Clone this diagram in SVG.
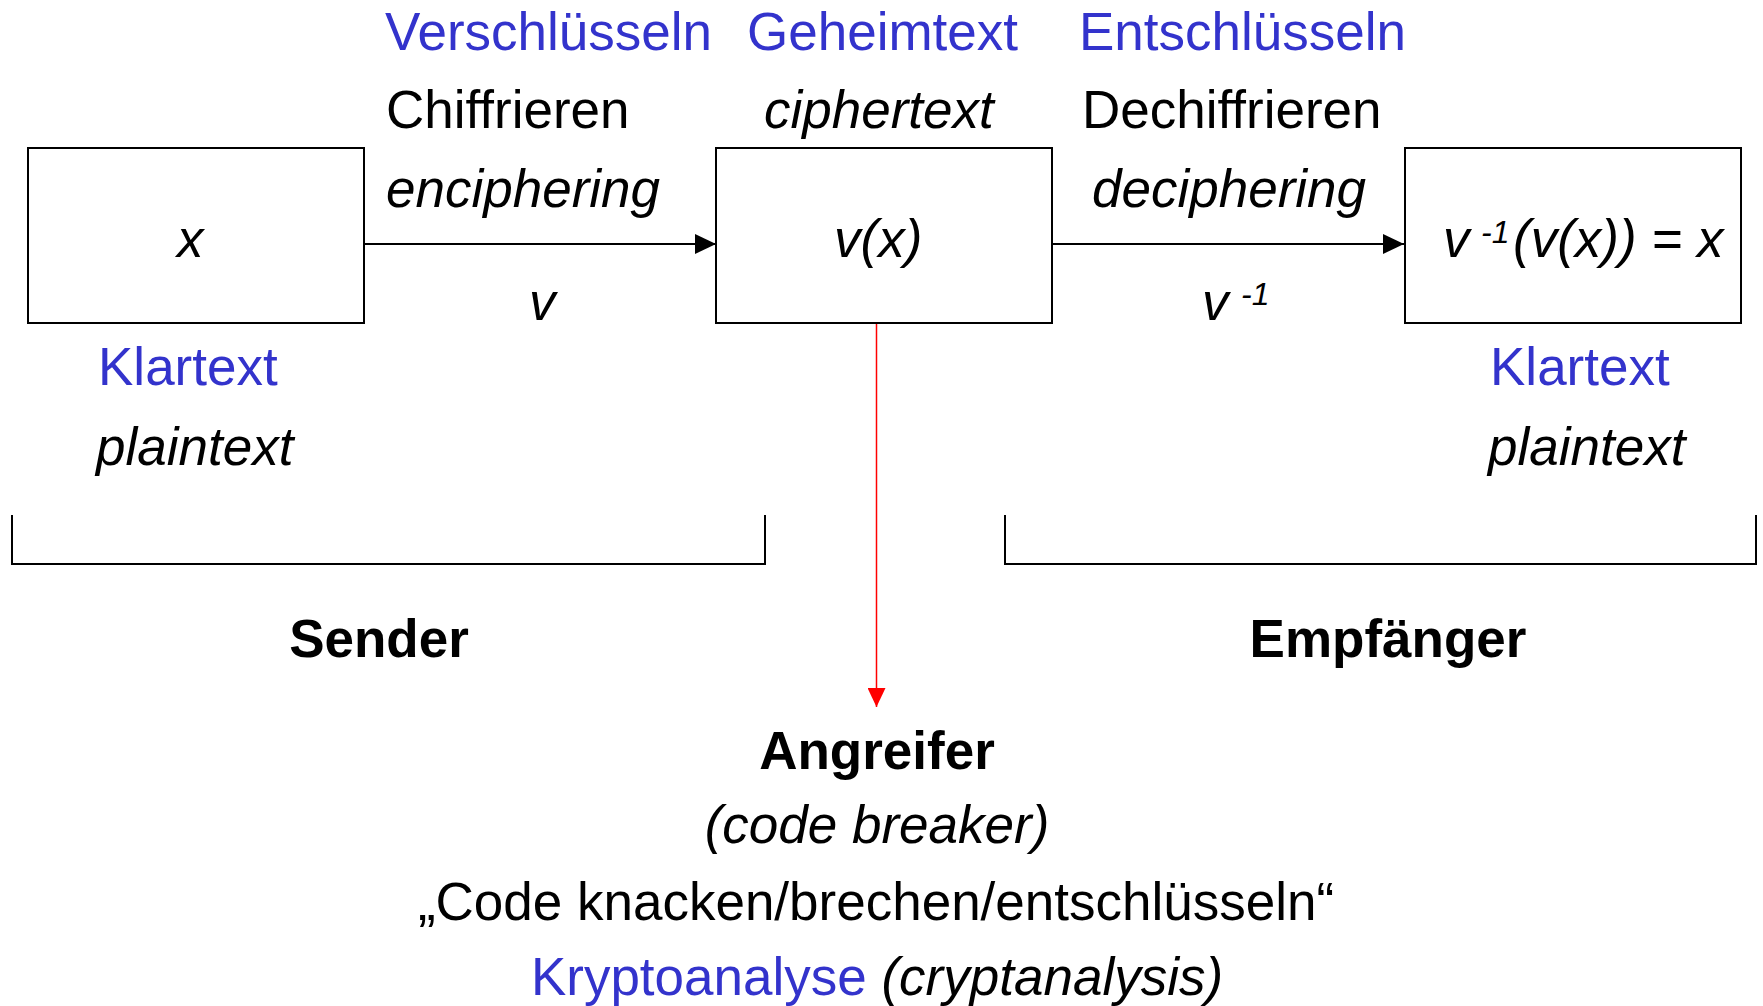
<svg xmlns="http://www.w3.org/2000/svg" width="1763" height="1006" viewBox="0 0 1763 1006">
  <style>
    text { font-family: "Liberation Sans", Arial, sans-serif; font-size: 53px; fill: #000; }
    .blue { fill: #3333CC; }
    .it { font-style: italic; }
    .b { font-weight: bold; }
    .box { fill: #fff; stroke: #000; stroke-width: 2; }
    .line { fill: none; stroke: #000; stroke-width: 2; }
  </style>
  <defs>
    <marker id="arrowBlack" viewBox="0 0 21 20" refX="21" refY="10" markerWidth="21" markerHeight="20" markerUnits="userSpaceOnUse" orient="auto">
      <path d="M0,0 L21,10 L0,20 Z" fill="#000"/>
    </marker>
    <marker id="arrowRed" viewBox="0 0 19 18" refX="19" refY="9" markerWidth="19" markerHeight="18" markerUnits="userSpaceOnUse" orient="auto">
      <path d="M0,0 L19,9 L0,18 Z" fill="#FF0000"/>
    </marker>
  </defs>

  <rect width="1763" height="1006" fill="#fff"/>

  <!-- connectors -->
  <g id="connectors">
    <line class="line" x1="364" y1="244" x2="716" y2="244" marker-end="url(#arrowBlack)"/>
    <line class="line" x1="1052" y1="244" x2="1404" y2="244" marker-end="url(#arrowBlack)"/>
    <line x1="876.5" y1="324" x2="876.5" y2="707" stroke="#FF0000" stroke-width="1.5" marker-end="url(#arrowRed)"/>
  </g>

  <!-- plaintext at sender -->
  <g id="node-plaintext">
    <rect class="box" x="28" y="148" width="336" height="175"/>
    <text class="it" x="177" y="257">x</text>
    <text class="blue" x="98" y="385">Klartext</text>
    <text class="it" x="96" y="465">plaintext</text>
  </g>

  <!-- encryption step -->
  <g id="label-encrypt">
    <text class="blue" x="385" y="50">Verschlüsseln</text>
    <text x="386" y="128">Chiffrieren</text>
    <text class="it" x="386" y="207">enciphering</text>
    <text class="it" x="529" y="320">v</text>
  </g>

  <!-- ciphertext -->
  <g id="node-ciphertext">
    <rect class="box" x="716" y="148" width="336" height="175"/>
    <text class="blue" x="747" y="50">Geheimtext</text>
    <text class="it" x="764" y="128">ciphertext</text>
    <text class="it" x="834" y="257">v(x)</text>
  </g>

  <!-- decryption step -->
  <g id="label-decrypt">
    <text class="blue" x="1079" y="50">Entschlüsseln</text>
    <text x="1082" y="128">Dechiffrieren</text>
    <text class="it" x="1092" y="207">deciphering</text>
    <text class="it" x="1202" y="320">v<tspan x="1241" y="305" font-size="32">-1</tspan></text>
  </g>

  <!-- plaintext at receiver -->
  <g id="node-decrypted">
    <rect class="box" x="1405" y="148" width="336" height="175"/>
    <text class="it" x="1443" y="257">v<tspan x="1481" y="243" font-size="32">-1</tspan><tspan x="1513" y="257">(v(x)) = x</tspan></text>
    <text class="blue" x="1490" y="385">Klartext</text>
    <text class="it" x="1488" y="465">plaintext</text>
  </g>

  <!-- sender bracket -->
  <g id="group-sender">
    <path class="line" d="M12,515 V564 H765 V515"/>
    <text class="b" x="379" y="657" text-anchor="middle">Sender</text>
  </g>

  <!-- receiver bracket -->
  <g id="group-receiver">
    <path class="line" d="M1005,515 V564 H1756 V515"/>
    <text class="b" x="1388" y="657" text-anchor="middle">Empfänger</text>
  </g>

  <!-- attacker -->
  <g id="node-attacker">
    <text class="b" x="877" y="769" text-anchor="middle">Angreifer</text>
    <text class="it" x="877" y="843" text-anchor="middle">(code breaker)</text>
    <text x="876" y="920" text-anchor="middle">„Code knacken/brechen/entschlüsseln“</text>
    <text x="877" y="995" text-anchor="middle"><tspan class="blue">Kryptoanalyse</tspan> <tspan class="it">(cryptanalysis)</tspan></text>
  </g>
</svg>
